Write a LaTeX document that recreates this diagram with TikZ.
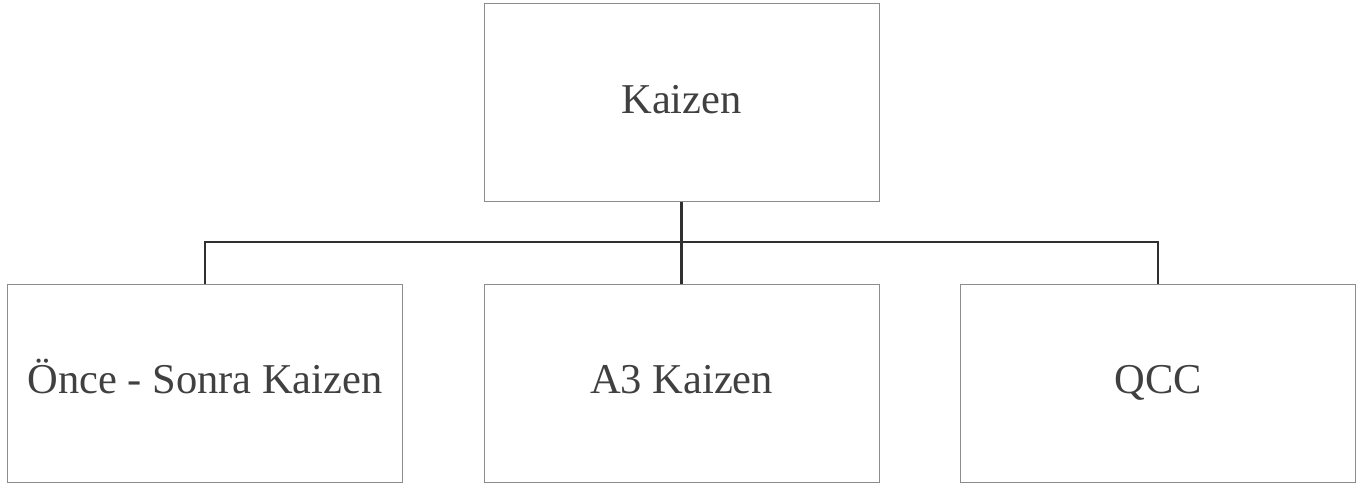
\documentclass[tikz,border=0pt]{standalone}
\usepackage{fontspec}
\setmainfont{Liberation Serif}
\begin{document}
\begin{tikzpicture}[x=1pt,y=-1pt,
  box/.style={draw=boxgray,line width=1.1pt,minimum width=395pt,minimum height=198pt,inner sep=0pt,
    text height=30pt,text depth=9pt,
    font=\fontsize{42.5}{48}\selectfont,text=txtgray,anchor=north west},
  conn/.style={draw=lineblack,line width=2.2pt}]
\definecolor{boxgray}{HTML}{8C8C8C}
\definecolor{txtgray}{HTML}{404040}
\definecolor{lineblack}{HTML}{303030}
\useasboundingbox (0,0) rectangle (1361,485);
\node[box] (top) at (483.5,3) {Kaizen};
\node[box] (b1) at (7,283.5) {Önce - Sonra Kaizen};
\node[box] (b2) at (483.5,283.5) {A3 Kaizen};
\node[box] (b3) at (960,283.5) {QCC};
\coordinate (j) at (681,242);
\draw[conn] (top.south) -- (top.south |- j);
\draw[conn] (b1.north) |- (j) -| (b3.north);
\draw[conn] (b2.north |- j) -- (b2.north);
\end{tikzpicture}
\end{document}
